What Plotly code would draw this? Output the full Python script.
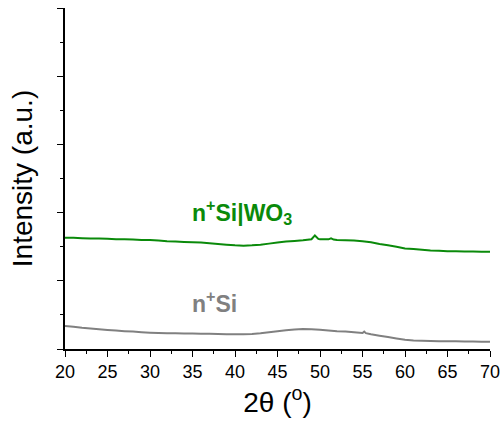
import plotly.graph_objects as go

# 2-theta (degrees)
x_wo3 = [20, 21, 22, 23, 24, 25, 26, 27, 28, 29, 30, 31, 32, 33, 34, 35, 36, 37, 38, 39,
         40, 41, 42, 43, 44, 45, 46, 47, 48, 49, 49.4, 49.8, 50, 51, 51.3, 51.6, 52, 53,
         54, 55, 56, 57, 58, 59, 60, 61, 62, 63, 64, 65, 66, 67, 68, 69, 70]
y_wo3 = [1.63, 1.63, 1.625, 1.62, 1.62, 1.615, 1.61, 1.61, 1.605, 1.60, 1.60, 1.59, 1.58,
         1.575, 1.57, 1.565, 1.56, 1.55, 1.54, 1.53, 1.52, 1.515, 1.52, 1.53, 1.545, 1.56,
         1.575, 1.585, 1.595, 1.61, 1.665, 1.615, 1.61, 1.608, 1.622, 1.605, 1.60, 1.595,
         1.59, 1.58, 1.565, 1.54, 1.52, 1.50, 1.475, 1.465, 1.455, 1.445, 1.44, 1.435,
         1.432, 1.43, 1.428, 1.427, 1.427]

x_si = [20, 21, 22, 23, 24, 25, 26, 27, 28, 29, 30, 31, 32, 33, 34, 35, 36, 37, 38, 39,
        40, 41, 42, 43, 44, 45, 46, 47, 48, 49, 50, 51, 52, 53, 54, 55, 55.2, 55.4, 56,
        57, 58, 59, 60, 61, 62, 63, 64, 65, 66, 67, 68, 69, 70]
y_si = [0.337, 0.325, 0.31, 0.30, 0.29, 0.28, 0.27, 0.262, 0.255, 0.247, 0.24, 0.235,
        0.232, 0.23, 0.228, 0.226, 0.224, 0.222, 0.22, 0.218, 0.216, 0.215, 0.22, 0.23,
        0.245, 0.26, 0.275, 0.287, 0.293, 0.29, 0.283, 0.272, 0.262, 0.255, 0.245, 0.235,
        0.255, 0.232, 0.215, 0.195, 0.175, 0.155, 0.135, 0.125, 0.12, 0.117, 0.115, 0.113,
        0.112, 0.11, 0.109, 0.108, 0.107]

GREEN = "#0a8a0a"
GRAY = "#808080"
FONT = "Liberation Sans, Arial, sans-serif"

fig = go.Figure()
fig.add_trace(go.Scatter(x=x_wo3, y=y_wo3, mode="lines",
                         line=dict(color=GREEN, width=2, simplify=False), showlegend=False))
fig.add_trace(go.Scatter(x=x_si, y=y_si, mode="lines",
                         line=dict(color=GRAY, width=2, simplify=False), showlegend=False))

fig.add_annotation(x=34.7, y=2.01, xanchor="left", yanchor="middle", showarrow=False,
                   text="<b>n<sup>+</sup>Si|WO<sub>3</sub></b>",
                   font=dict(family=FONT, size=23, color=GREEN))
fig.add_annotation(x=34.7, y=0.69, xanchor="left", yanchor="middle", showarrow=False,
                   text="<b>n<sup>+</sup>Si</b>",
                   font=dict(family=FONT, size=23, color=GRAY))

fig.update_layout(
    width=503, height=423,
    margin=dict(l=65, r=13, t=8, b=74, autoexpand=False),
    plot_bgcolor="white", paper_bgcolor="white",
    font=dict(family=FONT, color="black"),
    xaxis=dict(range=[20, 70], tick0=20, dtick=5, ticks="outside", ticklen=6,
               tickwidth=1.2, tickcolor="black", showline=True, linecolor="black",
               linewidth=1.5, showgrid=False, zeroline=False, automargin=False,
               tickfont=dict(size=18),
               minor=dict(dtick=2.5, ticks="outside", ticklen=3, tickcolor="black",
                          tickwidth=1.2, showgrid=False),
               title=dict(text="2θ (<sup>o</sup>)", font=dict(size=28), standoff=6)),
    yaxis=dict(range=[0, 5], dtick=1, ticks="outside", ticklen=6, tickwidth=1.2,
               tickcolor="black", showline=True, linecolor="black", linewidth=1.5,
               showgrid=False, zeroline=False, showticklabels=False, automargin=False,
               minor=dict(dtick=0.5, ticks="outside", ticklen=3, tickcolor="black",
                          tickwidth=1.2, showgrid=False),
               title=dict(text="Intensity (a.u.)", font=dict(size=28), standoff=16)),
)

fig.write_html("out.html")
